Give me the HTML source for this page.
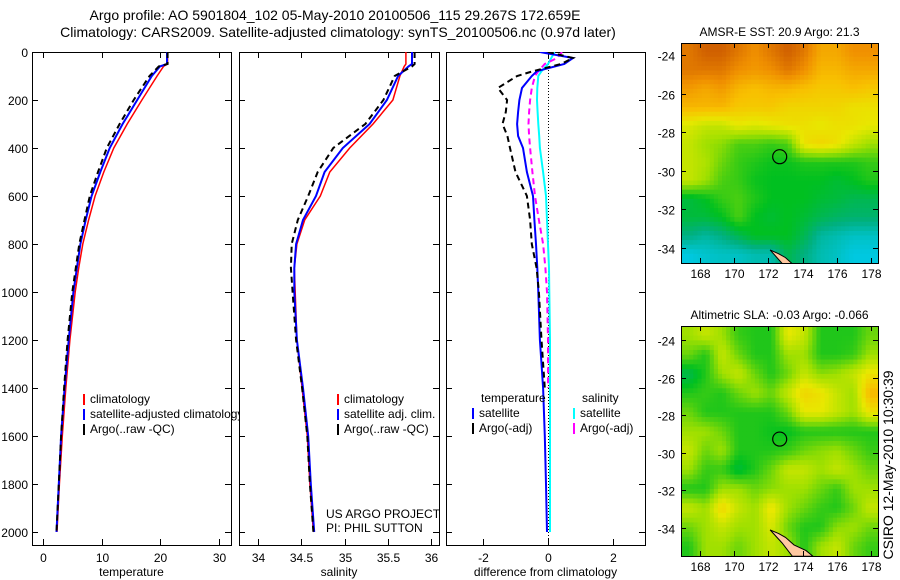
<!DOCTYPE html>
<html><head><meta charset="utf-8"><style>
body{margin:0;background:#fff;}
svg{display:block;font-family:"Liberation Sans",sans-serif;}
</style></head><body>
<svg id="c" width="900" height="580" viewBox="0 0 900 580">
<text x="335" y="20" font-size="14" text-anchor="middle">Argo profile: AO 5901804_102 05-May-2010 20100506_115 29.267S 172.659E</text>
<text x="338" y="37" font-size="14" text-anchor="middle">Climatology: CARS2009. Satellite-adjusted climatology: synTS_20100506.nc (0.97d later)</text>
<text transform="translate(893,465) rotate(-90)" font-size="14" text-anchor="middle">CSIRO 12-May-2010 10:30:39</text>
<g id="g"></g>
</svg>
<script>
// ---- data ----
const depths = [0,50,60,100,200,300,400,500,600,700,800,900,1000,1200,1400,1600,1800,2000];
const tempClim = [21.3,21.3,20.6,19.5,16.9,14.4,12.1,10.4,8.9,7.8,6.8,6.1,5.5,4.6,3.9,3.3,2.8,2.4];
const tempSat  = [21.2,21.2,20.0,18.6,16.1,13.6,11.4,9.8,8.3,7.3,6.4,5.8,5.2,4.4,3.7,3.1,2.7,2.3];
const tempArgo = [21.3,21.3,19.8,18.2,15.5,13.1,10.9,9.4,8.0,7.1,6.2,5.6,5.0,4.2,3.6,3.1,2.7,2.3];
const salClim = [35.71,35.71,35.69,35.64,35.56,35.33,35.06,34.83,34.72,34.54,34.45,34.42,34.43,34.45,34.51,34.57,34.60,34.64];
const salSat  = [35.78,35.78,35.74,35.62,35.49,35.29,34.98,34.77,34.67,34.52,34.44,34.42,34.42,34.45,34.52,34.58,34.61,34.65];
const salArgo = [35.81,35.81,35.78,35.58,35.45,35.24,34.87,34.69,34.58,34.46,34.39,34.38,34.40,34.44,34.51,34.57,34.60,34.64];
const diffDepths = [0,25,50,80,100,150,200,250,300,350,400,500,600,700,800,900,1000,1200,1400,1600,1800,2000];
const dTempSat  = [-0.25,0.77,0.5,-0.34,-0.5,-0.8,-0.88,-0.92,-0.95,-0.92,-0.77,-0.65,-0.46,-0.42,-0.37,-0.33,-0.3,-0.25,-0.15,-0.1,-0.06,-0.03];
const dTempArgo = [0.0,0.77,0.4,-0.46,-0.95,-1.54,-1.26,-1.3,-1.4,-1.25,-1.17,-1.0,-0.65,-0.55,-0.5,-0.35,-0.28,-0.2,-0.1,null,null,null];
const dSalSat   = [0.2,0.1,0.0,-0.2,-0.3,-0.33,-0.34,-0.32,-0.3,-0.27,-0.25,-0.15,-0.06,-0.03,0.0,0.03,0.04,0.06,0.06,0.06,0.06,0.06];
const dSalArgo  = [0.43,0.28,-0.1,-0.3,-0.4,-0.5,-0.55,-0.58,-0.6,-0.58,-0.55,-0.48,-0.4,-0.28,-0.15,-0.08,-0.03,0.0,0.0,null,null,null];
const depthTicks = [0,200,400,600,800,1000,1200,1400,1600,1800,2000];
const tempTicks = [0,10,20,30];
const salTicks = [34,34.5,35,35.5,36];
const diffTicks = [-2,0,2];
const latTicks = [-24,-26,-28,-30,-32,-34];
const lonTicks = [168,170,172,174,176,178];
const sstGrid = [
[0.85,0.9,0.9,0.85,0.8,0.85,0.9,0.85,0.75,0.75,0.8,0.8],
[0.85,0.85,0.85,0.8,0.78,0.8,0.85,0.8,0.72,0.72,0.75,0.75],
[0.78,0.75,0.78,0.72,0.7,0.72,0.72,0.7,0.68,0.68,0.7,0.68],
[0.72,0.72,0.72,0.68,0.68,0.68,0.65,0.65,0.65,0.65,0.62,0.62],
[0.58,0.55,0.55,0.6,0.58,0.6,0.62,0.62,0.6,0.62,0.62,0.6],
[0.55,0.5,0.48,0.42,0.42,0.4,0.42,0.62,0.65,0.62,0.55,0.5],
[0.55,0.52,0.45,0.4,0.38,0.36,0.36,0.38,0.38,0.38,0.38,0.4],
[0.55,0.5,0.42,0.4,0.36,0.35,0.35,0.35,0.35,0.33,0.35,0.38],
[0.32,0.35,0.4,0.42,0.38,0.35,0.35,0.35,0.33,0.32,0.3,0.3],
[0.32,0.32,0.35,0.42,0.35,0.33,0.35,0.33,0.3,0.28,0.27,0.27],
[0.25,0.22,0.25,0.3,0.35,0.35,0.35,0.3,0.22,0.2,0.18,0.18],
[0.15,0.17,0.18,0.18,0.2,0.2,0.3,0.25,0.2,0.18,0.15,0.15]];
const slaGrid = [
[0.5,0.55,0.5,0.4,0.38,0.38,0.6,0.55,0.38,0.38,0.38,0.45],
[0.45,0.38,0.55,0.45,0.38,0.38,0.5,0.5,0.38,0.38,0.4,0.5],
[0.3,0.38,0.5,0.55,0.45,0.38,0.45,0.55,0.48,0.5,0.55,0.62],
[0.38,0.4,0.38,0.45,0.5,0.45,0.55,0.65,0.62,0.55,0.5,0.72],
[0.45,0.38,0.38,0.38,0.38,0.38,0.45,0.6,0.6,0.55,0.5,0.62],
[0.5,0.5,0.45,0.38,0.38,0.36,0.35,0.38,0.38,0.38,0.38,0.38],
[0.55,0.45,0.5,0.38,0.38,0.38,0.4,0.45,0.48,0.5,0.45,0.4],
[0.5,0.4,0.4,0.32,0.38,0.45,0.55,0.55,0.5,0.55,0.5,0.45],
[0.38,0.38,0.5,0.5,0.45,0.48,0.5,0.5,0.45,0.4,0.5,0.5],
[0.55,0.5,0.65,0.55,0.5,0.62,0.5,0.45,0.4,0.38,0.45,0.55],
[0.45,0.5,0.55,0.5,0.5,0.58,0.45,0.38,0.38,0.48,0.5,0.45],
[0.38,0.5,0.5,0.45,0.5,0.55,0.5,0.38,0.5,0.55,0.45,0.4]];
const floatLon = 172.66, floatLat = -29.27;

// ---- drawing ----
const NS="http://www.w3.org/2000/svg", G=document.getElementById('g');
function mk(tag,at,parent){const e=document.createElementNS(NS,tag);for(const k in at)e.setAttribute(k,at[k]);(parent||G).appendChild(e);return e;}
function txt(x,y,s,size,anchor){const t=mk('text',{x:x,y:y,'font-size':size||12,'text-anchor':anchor||'start'});t.textContent=s;return t;}
const Y0=52, Y1=545, yD=d=>52+d*0.24;
const panels=[
 {x0:32,x1:231,sx:v=>43+v*5.85,ticks:tempTicks,label:'temperature',name:'temperature-panel'},
 {x0:239,x1:439,sx:v=>258+(v-34)*86.5,ticks:salTicks,label:'salinity',name:'salinity-panel'},
 {x0:446,x1:645,sx:v=>548+v*32.5,ticks:diffTicks,label:'difference from climatology',name:'difference-panel'}];
function line(p,xs,ys,color,w,dash,name){
 let d='',pen=false;
 for(let i=0;i<xs.length;i++){if(xs[i]==null){pen=false;continue;}d+=(pen?'L':'M')+p.sx(xs[i]).toFixed(1)+' '+yD(ys[i]).toFixed(1);pen=true;}
 const e=mk('path',{d:d,fill:'none',stroke:color,'stroke-width':w,'stroke-dasharray':dash||'none','clip-path':'url(#clip'+p.i+')'});
 
 
}
const defs=mk('defs',{});
panels.forEach((p,i)=>{p.i=i;const cp=mk('clipPath',{id:'clip'+i},defs);mk('rect',{x:p.x0,y:Y0,width:p.x1-p.x0,height:Y1-Y0},cp);});
function frame(p){
 const r=mk('rect',{x:p.x0+0.5,y:Y0+0.5,width:p.x1-p.x0,height:Y1-Y0,fill:'#fff',stroke:'#000'});
 
 
 depthTicks.forEach(d=>{const y=yD(d)+0.5;mk('line',{x1:p.x0,x2:p.x0+6,y1:y,y2:y,stroke:'#000'});mk('line',{x1:p.x1-6,x2:p.x1,y1:y,y2:y,stroke:'#000'});});
 p.ticks.forEach(v=>{const x=Math.round(p.sx(v))+0.5;mk('line',{x1:x,x2:x,y1:Y0,y2:Y0+6,stroke:'#000'});mk('line',{x1:x,x2:x,y1:Y1-6,y2:Y1,stroke:'#000'});
  const t=txt(x,562,String(v),12,'middle');});
 const l=txt((p.x0+p.x1)/2,576,p.label,12,'middle');
 
 
}
function legend(x,y,color,label){mk('rect',{x:x,y:y-9,width:2,height:11,fill:color});const t=txt(x+7,y,label,12);}
// panel 1
let p=panels[0];frame(p);
depthTicks.forEach(d=>{const t=txt(28,yD(d)+5,String(d),12,'end');});
line(p,tempClim,depths,'#f00',1.5,null,'temp-climatology-line');
line(p,tempSat,depths,'#00f',2,null,'temp-satellite-line');
line(p,tempArgo,depths,'#000',2,'6 4','temp-argo-line');
legend(83,403,'#f00','climatology');legend(83,418,'#00f','satellite-adjusted climatology');legend(83,433,'#000','Argo(..raw -QC)');
// panel 2
p=panels[1];frame(p);
line(p,salClim,depths,'#f00',1.5,null,'sal-climatology-line');
line(p,salSat,depths,'#00f',2,null,'sal-satellite-line');
line(p,salArgo,depths,'#000',2,'6 4','sal-argo-line');
legend(337,403,'#f00','climatology');legend(337,418,'#00f','satellite adj. clim.');legend(337,433,'#000','Argo(..raw -QC)');
txt(326,518,'US ARGO PROJECT',12);txt(326,532,'PI: PHIL SUTTON',12);
// panel 3
p=panels[2];frame(p);
mk('line',{x1:548.5,x2:548.5,y1:Y0,y2:Y1,stroke:'#000','stroke-dasharray':'1 2'});
line(p,dSalSat,diffDepths,'#0ff',2,null,'diff-sal-satellite-line');
line(p,dSalArgo,diffDepths,'#f0f',2,'6 4','diff-sal-argo-line');
line(p,dTempSat,diffDepths,'#00f',2,null,'diff-temp-satellite-line');
line(p,dTempArgo,diffDepths,'#000',2,'6 4','diff-temp-argo-line');
txt(481,402,'temperature',12);txt(582,402,'salinity',12);
legend(472,417,'#00f','satellite');legend(472,432,'#000','Argo(-adj)');
legend(573,417,'#0ff','satellite');legend(573,432,'#f0f','Argo(-adj)');

// maps
const stops=[[0,[30,144,255]],[0.15,[0,200,224]],[0.25,[0,176,128]],[0.35,[0,192,32]],[0.5,[160,224,0]],[0.6,[232,232,0]],[0.7,[248,192,0]],[0.8,[240,144,0]],[0.9,[208,96,0]],[1,[180,70,0]]];
function cmap(v){for(let i=1;i<stops.length;i++){if(v<=stops[i][0]){const a=stops[i-1],b=stops[i],f=(v-a[0])/(b[0]-a[0]);return 'rgb('+a[1].map((c,j)=>Math.round(c+(b[1][j]-c)*f)).join(',')+')';}}return 'rgb(180,70,0)';}
function sample(grid,fr,fc){
 const nR=grid.length,nC=grid[0].length;
 const r=Math.min(Math.max(fr*nR-0.5,0),nR-1), c=Math.min(Math.max(fc*nC-0.5,0),nC-1);
 const r0=Math.floor(r),c0=Math.floor(c),r1=Math.min(r0+1,nR-1),c1=Math.min(c0+1,nC-1),a=r-r0,b=c-c0;
 return grid[r0][c0]*(1-a)*(1-b)+grid[r0][c1]*(1-a)*b+grid[r1][c0]*a*(1-b)+grid[r1][c1]*a*b;
}
let mapId=0;
function map(y0,y1,yLat24,yLat34,grid,title,name,sub){
 const x0=681,x1=878;
 const sx=lon=>700+(lon-168)*17.1, sy=lat=>yLat24+(-24-lat)*(yLat34-yLat24)/10;
 const cid='mclip'+(mapId++);
 const cp=mk('clipPath',{id:cid},defs);mk('rect',{x:x0,y:y0,width:x1-x0,height:y1-y0},cp);
 const g=mk('g',{'clip-path':'url(#'+cid+')'});
 
 
 const nR=grid.length*sub,nC=grid[0].length*sub,cw=(x1-x0)/nC,ch=(y1-y0)/nR;
 for(let r=0;r<nR;r++)for(let c=0;c<nC;c++){
  const v=sample(grid,(r+0.5)/nR,(c+0.5)/nC);
  const e=mk('rect',{x:(x0+c*cw).toFixed(2),y:(y0+r*ch).toFixed(2),width:(cw+0.5).toFixed(2),height:(ch+0.5).toFixed(2),fill:cmap(v)},g);
  
  
 }
 const land=[[172.1,-34.1],[172.6,-34.3],[173.0,-34.5],[173.5,-34.9],[174.2,-35.2],[174.6,-35.5],[173.4,-35.5],[172.8,-34.8]];
 mk('path',{d:'M'+land.map(q=>sx(q[0]).toFixed(1)+' '+sy(q[1]).toFixed(1)).join('L')+'Z',fill:'#ffc8a0',stroke:'#000','stroke-width':1},g);
 const c=mk('circle',{cx:sx(floatLon),cy:sy(floatLat),r:7,fill:'none',stroke:'#000','stroke-width':1.2});
 
 
 mk('rect',{x:x0+0.5,y:y0+0.5,width:x1-x0,height:y1-y0,fill:'none',stroke:'#000'});
 latTicks.forEach(l=>{const y=Math.round(sy(l))+0.5;mk('line',{x1:x0,x2:x0+5,y1:y,y2:y,stroke:'#000'});mk('line',{x1:x1-5,x2:x1,y1:y,y2:y,stroke:'#000'});txt(675,y+5,String(l),12,'end');});
 lonTicks.forEach(l=>{const x=Math.round(sx(l))+0.5;mk('line',{x1:x,x2:x,y1:y0,y2:y0+5,stroke:'#000'});mk('line',{x1:x,x2:x,y1:y1-5,y2:y1,stroke:'#000'});txt(x,y1+15,String(l),12,'middle');});
 const t=txt((x0+x1)/2,y0-7,title,12,'middle');
 
 
}
map(43,263,55,248,sstGrid,'AMSR-E SST: 20.9 Argo: 21.3','sst-map',4);
map(326,556,340,528,slaGrid,'Altimetric SLA: -0.03 Argo: -0.066','sla-map',4);
</script>
</body></html>
